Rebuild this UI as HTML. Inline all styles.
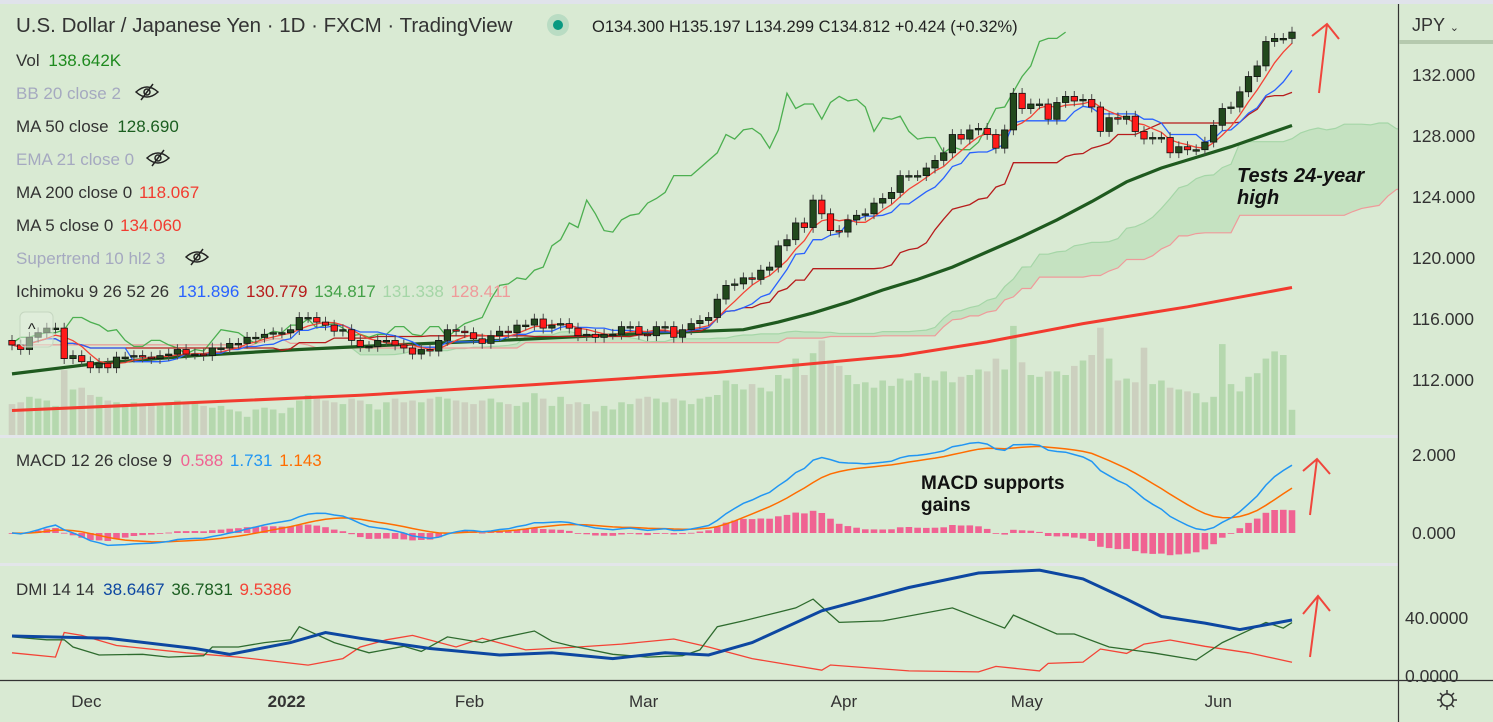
<!DOCTYPE html>
<html><head><meta charset="utf-8"><style>
html,body{margin:0;padding:0;background:#d9ead3;}
svg{display:block;font-family:"Liberation Sans",sans-serif;}
</style></head><body>
<svg id="chart" width="1493" height="722" viewBox="0 0 1493 722" xmlns="http://www.w3.org/2000/svg">
<rect x="0" y="0" width="1493" height="722" fill="#d9ead3"/>
<rect x="0" y="0" width="1493" height="4" fill="#e0e3eb"/>
<defs><clipPath id="pc"><rect x="0" y="4" width="1398" height="432"/></clipPath>
<clipPath id="mc"><rect x="0" y="438" width="1398" height="125"/></clipPath>
<clipPath id="dc"><rect x="0" y="567" width="1398" height="112"/></clipPath></defs>
<g id="price" clip-path="url(#pc)"></g>
<g id="macd" clip-path="url(#mc)"></g>
<g id="dmi" clip-path="url(#dc)"></g>
<rect x="0" y="435" width="1398" height="3" fill="#e3e6ea"/>
<rect x="0" y="563" width="1398" height="3" fill="#e3e6ea"/>
<line x1="1398.5" y1="4" x2="1398.5" y2="722" stroke="#333" stroke-width="1.2"/>
<line x1="0" y1="680.5" x2="1493" y2="680.5" stroke="#333" stroke-width="1.2"/>
<rect x="1399" y="40" width="94" height="4" fill="#b5c9ae"/>
<text x="1412" y="31" font-size="18" fill="#333">JPY <tspan font-size="11">⌄</tspan></text>
<g id="yaxis"></g>
<g id="xaxis"></g>
<g stroke="#333" stroke-width="1.5" fill="none">
<circle cx="1447" cy="700" r="6"/><line x1="1447" y1="690" x2="1447" y2="694"/><line x1="1447" y1="706" x2="1447" y2="710"/><line x1="1437" y1="700" x2="1441" y2="700"/><line x1="1453" y1="700" x2="1457" y2="700"/><line x1="1440" y1="693" x2="1443" y2="696"/><line x1="1451" y1="704" x2="1454" y2="707"/><line x1="1440" y1="707" x2="1443" y2="704"/><line x1="1451" y1="696" x2="1454" y2="693"/></g>
<text x="16" y="32" font-size="20.5" fill="#333">U.S. Dollar / Japanese Yen · 1D · FXCM · TradingView</text>
<circle cx="558" cy="25" r="11" fill="#b9dcc3"/>
<circle cx="558" cy="25" r="5" fill="#089981"/>
<text x="592" y="32" font-size="16.5" fill="#222">O134.300  H135.197  L134.299  C134.812  +0.424 (+0.32%)</text>
<text x="16" y="66" font-size="17" fill="#333">Vol <tspan fill="#1e8a1e" dx="4">138.642K</tspan></text>
<text x="16" y="99" font-size="17" fill="#a5a9c0">BB 20 close 2</text>
<text x="16" y="132" font-size="17" fill="#333">MA 50 close <tspan fill="#1b5e20" dx="4">128.690</tspan></text>
<text x="16" y="165" font-size="17" fill="#a5a9c0">EMA 21 close 0</text>
<text x="16" y="198" font-size="17" fill="#333">MA 200 close 0 <tspan fill="#f23b2f" dx="2">118.067</tspan></text>
<text x="16" y="231" font-size="17" fill="#333">MA 5 close 0 <tspan fill="#f23b2f" dx="2">134.060</tspan></text>
<text x="16" y="264" font-size="17" fill="#a5a9c0">Supertrend 10 hl2 3</text>
<text x="16" y="297" font-size="17" fill="#333">Ichimoku 9 26 52 26 <tspan fill="#2962ff" dx="4">131.896</tspan> <tspan fill="#b71c1c" dx="2">130.779</tspan> <tspan fill="#43a047" dx="2">134.817</tspan> <tspan fill="#a5d6a7" dx="2">131.338</tspan> <tspan fill="#ef9a9a" dx="2">128.411</tspan></text>
<g stroke="#222" stroke-width="1.5" fill="none">
<path d="M136 92 q11 -10 22 0 q-11 10 -22 0z M141 100 L153 84"/><circle cx="147" cy="92" r="3"/>
<path d="M147 158 q11 -10 22 0 q-11 10 -22 0z M152 166 L164 150"/><circle cx="158" cy="158" r="3"/>
<path d="M186 257 q11 -10 22 0 q-11 10 -22 0z M191 265 L203 249"/><circle cx="197" cy="257" r="3"/></g>
<rect x="20" y="312" width="33" height="35" rx="5" fill="rgba(230,240,226,0.5)" stroke="#c5d6c0"/>
<text x="28" y="334" font-size="16" fill="#222">^</text>
<text x="16" y="466" font-size="17" fill="#333">MACD 12 26 close 9 <tspan fill="#f06292" dx="4">0.588</tspan> <tspan fill="#2196f3" dx="2">1.731</tspan> <tspan fill="#ff6d00" dx="2">1.143</tspan></text>
<text x="16" y="595" font-size="17" fill="#333">DMI 14 14 <tspan fill="#0d47a1" dx="4">38.6467</tspan> <tspan fill="#1b5e20" dx="2">36.7831</tspan> <tspan fill="#f44336" dx="2">9.5386</tspan></text>
<text font-size="20" font-style="italic" font-weight="bold" fill="#111"><tspan x="1237" y="182">Tests 24-year</tspan><tspan x="1237" y="204">high</tspan></text>
<text font-size="19" font-weight="bold" fill="#111"><tspan x="921" y="489">MACD supports</tspan><tspan x="921" y="511">gains</tspan></text>
<g stroke="#f0463c" stroke-width="2" fill="none"><path d="M1319 93 L1327 24 M1312 36 L1327 24 L1339 39"/></g>
<g stroke="#f0463c" stroke-width="2" fill="none"><path d="M1310 515 L1317 459 M1303 471 L1317 459 L1330 474"/></g>
<g stroke="#f0463c" stroke-width="2" fill="none"><path d="M1310 657 L1318 596 M1303 614 L1318 596 L1330 611"/></g>
</svg>
<script>
// ---- data ----
const closes=[114.3,114.0,114.8,115.1,115.4,115.4,113.4,113.6,113.2,
112.8,113.1,112.8,113.5,113.5,113.6,113.5,113.4,113.6,113.7,114.0,113.7,113.7,113.6,114.1,114.1,114.4,114.4,114.8,114.8,115.0,115.1,115.1,
115.3,116.1,116.1,115.8,115.6,115.2,115.3,114.6,114.2,114.2,114.6,114.6,114.3,114.1,113.7,114.0,113.9,114.6,115.3,115.2,115.1,
114.7,114.4,114.9,115.2,115.1,115.6,115.6,116.0,115.4,115.6,115.7,115.4,114.9,115.0,114.8,115.0,115.0,115.5,115.5,115.0,
114.9,115.5,115.5,114.8,115.3,115.7,115.9,116.1,117.3,118.2,118.3,118.7,118.6,119.2,119.4,120.8,121.2,122.3,122.0,123.8,122.9,121.8,121.7,
122.5,122.8,122.9,123.6,123.9,124.3,125.4,125.4,125.4,125.9,126.4,126.9,128.1,127.8,128.4,128.5,128.1,127.2,128.4,130.8,129.8,
130.1,130.1,129.1,130.2,130.6,130.3,130.4,129.9,128.3,129.2,129.1,129.3,128.3,127.8,127.9,127.9,126.9,127.3,127.1,127.1,127.6,128.7,
129.8,129.9,130.9,131.9,132.6,134.2,134.4,134.4,134.812];
const firstOpen=114.6;
const volumes=[170,180,210,200,190,160,357,250,260,
220,210,190,180,170,180,160,170,160,180,190,170,180,160,150,160,140,130,100,140,150,140,120,
150,190,220,200,190,180,170,200,190,170,140,180,200,180,190,180,200,210,200,190,180,
170,190,200,180,170,160,180,230,200,160,210,170,180,170,130,160,140,180,170,200,
210,200,180,200,190,170,200,210,220,300,280,250,280,260,240,330,310,420,330,450,520,410,380,
330,280,290,260,300,270,310,300,340,320,300,350,290,320,330,360,350,420,360,600,400,
330,320,350,350,330,380,410,440,590,420,300,310,290,480,280,300,260,250,240,230,180,210,
500,280,240,320,340,420,460,440,138.6];
const ma50Idx=[0,10,21,33,44,56,67,75,84,88,92,96,100,104,108,112,116,120,124,128,132,136,140,144,147];
const ma50Val=[112.4,113.1,113.6,114.0,114.3,114.6,114.9,115.1,115.3,115.8,116.4,117.1,117.9,118.6,119.4,120.4,121.4,122.5,123.7,125.0,125.9,126.6,127.3,128.1,128.69];
const ma200Idx=[0,20,40,60,81,102,112,123,135,147];
const ma200Val=[110.0,110.5,111.0,111.7,112.5,113.6,114.5,115.7,116.8,118.067];
const adxIdx=[0,11,21,25,32,36,40,48,56,62,69,75,80,85,93,103,111,118,123,128,132,137,141,147];
const adxVal=[27.6,26,19,15,23,30,26,19,14.5,16,12,16,14.5,23,45,61,71,73,67,53,41,36.5,32,38.6];
const pdiIdx=[0,4,6,7,10,15,18,22,23,26,29,32,33,37,41,45,47,50,54,56,60,62,64,69,73,77,79,81,84,88,90,92,95,100,108,114,115,120,122,126,131,136,139,144,146,147];
const pdiVal=[27,25,25,20,14.5,15,13,14,20,20,23,25,34,23,16,20.5,17,27,23,26,31,24,21,15,13,14,18,34,38,44,47,53,37,38,47,33,42,29,29,20,16,11,23,37,33,36.8];
const mdiIdx=[0,5,6,8,12,20,26,34,38,40,43,46,51,54,59,65,70,76,80,85,93,94,103,111,113,118,119,123,125,128,130,133,137,142,147];
const mdiVal=[16,13,30,28,21,16,13,7.5,12,20,25,28,20,26,18,20,22,25.5,20,12,4,7.6,3.5,2.8,6.6,3.5,8.7,9.6,18.6,15.6,22,24.8,20.5,16,9.5];
const priceTicks=[132,128,124,120,116,112];
const macdTicks=[2,0];
const dmiTicks=[40,0];
const monthLabels=["Dec","2022","Feb","Mar","Apr","May","Jun"];
const monthIdx=[9,32,53,73,96,117,139];

// ---- axes ----
const N=closes.length;
const X0=12, DX=(1292-12)/(N-1);
const xs=i=>X0+i*DX;
const py=p=>75+(132-p)*15.25;
const my=v=>533-v*39;
const dy=v=>676-v*1.45;
const NS="http://www.w3.org/2000/svg";
function mk(parent,tag,attrs,txt){const e=document.createElementNS(NS,tag);for(const k in attrs)e.setAttribute(k,attrs[k]);if(txt!==undefined)e.textContent=txt;parent.appendChild(e);return e;}
function pts(idx,vals,yf){return idx.map((k,j)=>xs(k).toFixed(1)+","+yf(vals[j]).toFixed(1)).join(" ");}
const P=document.getElementById('price'),M=document.getElementById('macd'),D=document.getElementById('dmi');
const YA=document.getElementById('yaxis'),XA=document.getElementById('xaxis');
const allIdx=closes.map((c,i)=>i);
const opens=closes.map((c,i)=>i===0?firstOpen:closes[i-1]);

function mid(arr,i,n){let s=Math.max(0,i-n+1),hi=-1e9,lo=1e9;for(let k=s;k<=i;k++){hi=Math.max(hi,arr[k]);lo=Math.min(lo,arr[k]);}return (hi+lo)/2;}
const tenkan=closes.map((c,i)=>mid(closes,i,9));
const kijun=closes.map((c,i)=>mid(closes,i,26));
const spanA=[],spanB=[],spanIdx=[];
for(let i=0;i<N+26;i++){const j=Math.max(0,i-26);spanIdx.push(i);spanA.push((tenkan[j]+kijun[j])/2);spanB.push(mid(closes,j,52));}

let cloudD="M"+spanIdx.map((k,j)=>xs(k).toFixed(1)+","+py(spanA[j]).toFixed(1)).join(" L")+" L"+spanIdx.slice().reverse().map(k=>xs(k).toFixed(1)+","+py(spanB[k]).toFixed(1)).join(" L")+"Z";
let el=mk(P,'path',{d:cloudD,fill:'rgba(129,199,132,0.22)'});


el=mk(P,'polyline',{points:pts(spanIdx,spanA,py),fill:'none',stroke:'#a5d6a7','stroke-width':1.2});


el=mk(P,'polyline',{points:pts(spanIdx,spanB,py),fill:'none',stroke:'#ef9a9a','stroke-width':1.2});



const vmaxScale=1/5.5;
volumes.forEach((v,i)=>{const up=closes[i]>=opens[i];const h=v*vmaxScale;
 const r=mk(P,'rect',{x:(xs(i)-3.3).toFixed(1),y:(435-h).toFixed(1),width:6.6,height:h.toFixed(1),fill:up?'#b5d8ae':'#ccd0bf'});
 
 });

el=mk(P,'polyline',{points:pts(ma200Idx,ma200Val,py),fill:'none',stroke:'#f23b2f','stroke-width':3});


el=mk(P,'polyline',{points:pts(ma50Idx,ma50Val,py),fill:'none',stroke:'#1f5a1f','stroke-width':3.2});



const chIdx=[],chVal=[];for(let i=26;i<N;i++){chIdx.push(i-26);chVal.push(closes[i]);}
el=mk(P,'polyline',{points:pts(chIdx,chVal,py),fill:'none',stroke:'#4caf50','stroke-width':1.3});


el=mk(P,'polyline',{points:pts(allIdx,kijun,py),fill:'none',stroke:'#b71c1c','stroke-width':1.3});


el=mk(P,'polyline',{points:pts(allIdx,tenkan,py),fill:'none',stroke:'#2962ff','stroke-width':1.3});


const ma5=closes.map((c,i)=>{let s=0,n=0;for(let k=Math.max(0,i-4);k<=i;k++){s+=closes[k];n++;}return s/n;});
el=mk(P,'polyline',{points:pts(allIdx,ma5,py),fill:'none',stroke:'#f44336','stroke-width':1.3});



closes.forEach((c,i)=>{const o=opens[i];const up=c>=o;const top=Math.max(o,c),bot=Math.min(o,c);
 const w=mk(P,'line',{x1:xs(i).toFixed(1),x2:xs(i).toFixed(1),y1:py(top+0.35).toFixed(1),y2:py(bot-0.35).toFixed(1),stroke:'#4a4a4a','stroke-width':1});
 
 
 const bh=Math.max(1.5,py(bot)-py(top));
 const b=mk(P,'rect',{x:(xs(i)-3.2).toFixed(1),y:py(top).toFixed(1),width:6.4,height:bh.toFixed(1),fill:up?'#22491d':'#ff1a1a',stroke:'#111','stroke-width':0.8});
 
 });

function ema(arr,n){const a=2/(n+1);const out=[];arr.forEach((v,i)=>out.push(i===0?v:out[i-1]+a*(v-out[i-1])));return out;}
const e12=ema(closes,12),e26=ema(closes,26);
const macd=closes.map((c,i)=>e12[i]-e26[i]);
const signal=ema(macd,9);
macd.forEach((m,i)=>{const h=m-signal[i];const y1=my(Math.max(0,h)),y2=my(Math.min(0,h));
 const r=mk(M,'rect',{x:(xs(i)-3.3).toFixed(1),y:y1.toFixed(1),width:6.6,height:Math.max(0.8,y2-y1).toFixed(1),fill:'#f06292'});
 
 });
el=mk(M,'polyline',{points:pts(allIdx,signal,my),fill:'none',stroke:'#ff6d00','stroke-width':1.5});


el=mk(M,'polyline',{points:pts(allIdx,macd,my),fill:'none',stroke:'#2196f3','stroke-width':1.5});



el=mk(D,'polyline',{points:pts(mdiIdx,mdiVal,dy),fill:'none',stroke:'#f44336','stroke-width':1.3});


el=mk(D,'polyline',{points:pts(pdiIdx,pdiVal,dy),fill:'none',stroke:'#2e6b2e','stroke-width':1.3});


el=mk(D,'polyline',{points:pts(adxIdx,adxVal,dy),fill:'none',stroke:'#0d47a1','stroke-width':3});



priceTicks.forEach(t=>{const e=mk(YA,'text',{x:1412,y:(py(t)+6).toFixed(1),'font-size':17.5,fill:'#333'},t.toFixed(3));
 
 });
macdTicks.forEach(t=>{const e=mk(YA,'text',{x:1412,y:(my(t)+6).toFixed(1),'font-size':17.5,fill:'#333'},t.toFixed(3));
 
 });
dmiTicks.forEach(t=>{const e=mk(YA,'text',{x:1405,y:(dy(t)+6).toFixed(1),'font-size':17.5,fill:'#333'},t.toFixed(4));
 
 });
monthLabels.forEach((m,j)=>{const e=mk(XA,'text',{x:(xs(monthIdx[j])-4).toFixed(1),y:707,'font-size':17,fill:'#333','text-anchor':'middle','font-weight':m==='2022'?'bold':'normal'},m);
 
 });
</script>
</body></html>
